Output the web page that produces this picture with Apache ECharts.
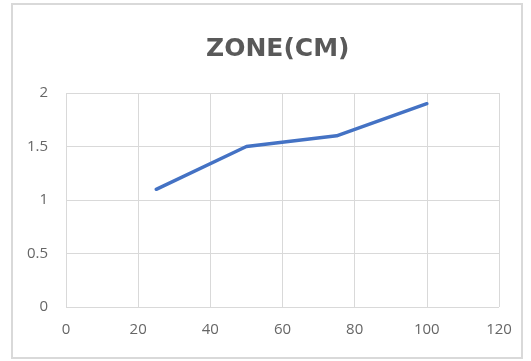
<!DOCTYPE html>
<html>
<head>
<meta charset="utf-8">
<style>
  html, body { margin: 0; padding: 0; background: #fff; }
  #chart { width: 531px; height: 361px; }
</style>
<script src="https://cdn.jsdelivr.net/npm/echarts@6/dist/echarts.min.js"></script>
</head>
<body>
<div id="chart"></div>
<script>
// Zone measurements (cm) against position
const xValues = [25, 50, 75, 100];
const zoneValues = [1.1, 1.5, 1.6, 1.9];
const titleText = 'ZONE(CM)';

const chart = echarts.init(document.getElementById('chart'));
const labelFont = { color: '#666666', fontSize: 15, fontFamily: 'Open Sans' };

chart.setOption({
  animation: false,
  backgroundColor: '#fff',
  title: {
    text: titleText,
    left: 201,
    top: 32,
    textStyle: { color: '#595959', fontSize: 25, fontWeight: 'bold', fontFamily: 'DejaVu Sans' }
  },
  graphic: [{
    type: 'rect',
    shape: { x: 12, y: 4, width: 510, height: 354 },
    style: { fill: 'none', stroke: '#d9d9d9', lineWidth: 2 },
    silent: true
  }],
  grid: { left: 66, right: 32, top: 93, bottom: 54 },
  xAxis: {
    type: 'value',
    min: 0, max: 120, interval: 20,
    axisLine: { show: false },
    axisTick: { show: false },
    splitLine: { show: true, lineStyle: { color: '#d9d9d9', width: 1 } },
    axisLabel: Object.assign({ margin: 15 }, labelFont)
  },
  yAxis: {
    type: 'value',
    min: 0, max: 2, interval: 0.5,
    axisLine: { show: false },
    axisTick: { show: false },
    splitLine: { show: true, lineStyle: { color: '#d9d9d9', width: 1 } },
    axisLabel: Object.assign({ margin: 18 }, labelFont)
  },
  series: [{
    type: 'line',
    data: xValues.map((x, i) => [x, zoneValues[i]]),
    showSymbol: false,
    lineStyle: { color: '#4472C4', width: 3.5, cap: 'round', join: 'round' }
  }]
});
</script>
</body>
</html>
